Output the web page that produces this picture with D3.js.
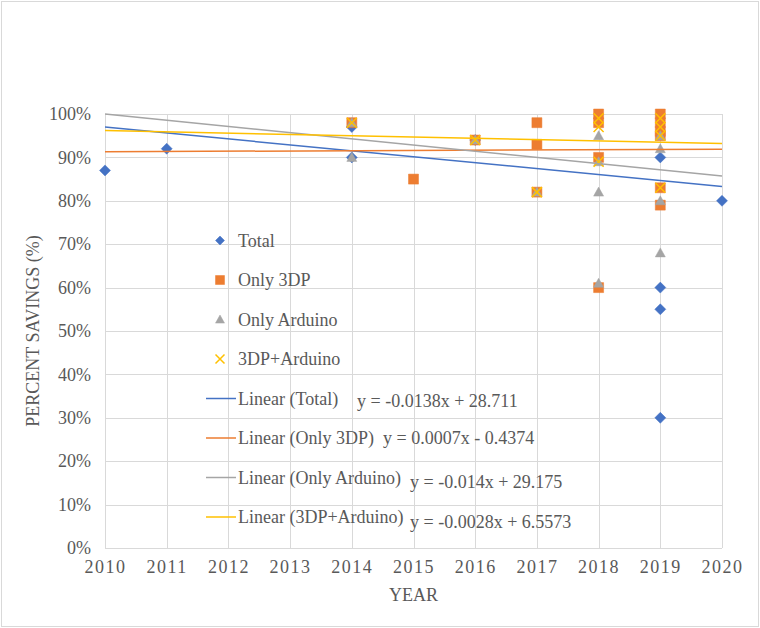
<!DOCTYPE html>
<html>
<head>
<meta charset="utf-8">
<script src="https://cdn.jsdelivr.net/npm/d3@7"></script>
<style>
  html, body { margin: 0; padding: 0; background: #fff; }
  svg text { font-family: "Liberation Serif", "DejaVu Serif", serif !important; fill: #595959; }
</style>
</head>
<body>
<svg id="chart" width="760" height="628"></svg>
<script>
// ---- data (year, percent savings) ----
const totalPts = [[2010,0.87],[2011,0.92],[2014,0.90],[2014,0.97],[2016,0.94],[2019,0.90],[2019,0.60],[2019,0.55],[2019,0.30],[2020,0.80]];
const only3dpPts = [[2014,0.98],[2015,0.85],[2016,0.94],[2017,0.98],[2017,0.93],[2017,0.82],[2018,1.00],[2018,0.98],[2018,0.90],[2018,0.60],[2019,1.00],[2019,0.98],[2019,0.96],[2019,0.95],[2019,0.83],[2019,0.79]];
const onlyArduinoPts = [[2014,0.98],[2014,0.90],[2016,0.94],[2017,0.82],[2018,0.95],[2018,0.89],[2018,0.82],[2018,0.61],[2019,0.95],[2019,0.92],[2019,0.80],[2019,0.68]];
const comboPts = [[2014,0.98],[2016,0.94],[2017,0.82],[2018,0.99],[2018,0.97],[2018,0.89],[2019,0.99],[2019,0.97],[2019,0.95],[2019,0.83]];

const seriesNames = ["Total","Only 3DP","Only Arduino","3DP+Arduino"];
const seriesColors = ["#4472C4","#ED7D31","#A5A5A5","#FFC000"];
const seriesShapes = ["diamond","square","triangle","x"];
// trendline values at the ends of the year range (2010, 2020)
const trendStart = [0.970, 0.913, 1.000, 0.962];
const trendEnd   = [0.833, 0.919, 0.857, 0.932];
const trendEquations = ["y = -0.0138x + 28.711","y = 0.0007x - 0.4374","y = -0.014x + 29.175","y = -0.0028x + 6.5573"];
const xTicks = [2010,2011,2012,2013,2014,2015,2016,2017,2018,2019,2020];
const yTicks = [0,0.1,0.2,0.3,0.4,0.5,0.6,0.7,0.8,0.9,1.0];
const xTitle = "YEAR";
const yTitle = "PERCENT SAVINGS (%)";

const allSeries = [totalPts, only3dpPts, onlyArduinoPts, comboPts];
const FONT = "'Liberation Serif', 'DejaVu Serif', serif";

const svg = d3.select("#chart");
const W = 760, H = 628;
const plot = {left: 105, right: 722, top: 114, bottom: 548};

// chart border
svg.append("rect").attr("x",1.5).attr("y",1.5).attr("width",W-3).attr("height",H-3)
  .attr("fill","#fff").attr("stroke","#d9d9d9").attr("stroke-width",1);

const x = d3.scaleLinear().domain([2010,2020]).range([plot.left, plot.right]);
const y = d3.scaleLinear().domain([0,1]).range([plot.bottom, plot.top]);

// grid
const grid = svg.append("g");
grid.selectAll("line.h").data(yTicks).join("line")
  .attr("x1",plot.left).attr("x2",plot.right)
  .attr("y1",d=>Math.round(y(d))+0.5).attr("y2",d=>Math.round(y(d))+0.5)
  .attr("stroke","#d9d9d9").attr("stroke-width",1);
grid.selectAll("line.v").data(xTicks).join("line")
  .attr("y1",plot.top).attr("y2",plot.bottom)
  .attr("x1",d=>Math.round(x(d))+0.5).attr("x2",d=>Math.round(x(d))+0.5)
  .attr("stroke","#d9d9d9").attr("stroke-width",1);

// axes (labels only)
const yAxis = d3.axisLeft(y).tickValues(yTicks).tickFormat(d3.format(".0%")).tickSize(0).tickPadding(14);
const gy = svg.append("g").attr("transform",`translate(${plot.left},0)`).call(yAxis)
  .attr("font-family", FONT);
gy.select(".domain").remove();
gy.selectAll("text").style("font-size","18px").attr("fill","#595959");

const xAxis = d3.axisBottom(x).tickValues(xTicks).tickFormat(d3.format("d")).tickSize(0).tickPadding(12);
const gx = svg.append("g").attr("transform",`translate(0,${plot.bottom})`).call(xAxis)
  .attr("font-family", FONT);
gx.select(".domain").remove();
gx.selectAll("text").style("font-size","18px").style("letter-spacing","1.5px").attr("fill","#595959");

// titles
svg.append("text").attr("x", (plot.left+plot.right)/2).attr("y", 601)
  .attr("text-anchor","middle").attr("font-family",FONT).style("font-size","18px").text(xTitle);
svg.append("text").attr("transform",`translate(39,${(plot.top+plot.bottom)/2}) rotate(-90)`)
  .attr("text-anchor","middle").attr("font-family",FONT).style("font-size","18px").text(yTitle);

// marker paths
function markerPath(shape, s) {
  const h = s/2;
  if (shape === "diamond") return `M0,${-h}L${h},0L0,${h}L${-h},0Z`;
  if (shape === "square") return `M${-h},${-h}H${h}V${h}H${-h}Z`;
  if (shape === "triangle") return `M0,${-h}L${h},${h*0.8}L${-h},${h*0.8}Z`;
  return `M${-h},${-h}L${h},${h}M${h},${-h}L${-h},${h}`;
}
function drawMarker(g, shape, color, cx, cy, size) {
  const p = g.append("path").attr("d", markerPath(shape, size))
    .attr("transform",`translate(${cx},${cy})`);
  if (shape === "x") p.attr("fill","none").attr("stroke",color).attr("stroke-width",1.5);
  else p.attr("fill",color).attr("stroke",color).attr("stroke-width",0.5);
}

// points
const pts = svg.append("g");
allSeries.forEach((data, i) => {
  data.forEach(d => {
    const sz = seriesShapes[i]==="diamond" ? 11 : 10;
    drawMarker(pts, seriesShapes[i], seriesColors[i], x(d[0]), y(d[1]), sz);
  });
});

// trendlines
const tl = svg.append("g");
seriesNames.forEach((n, i) => {
  tl.append("line").attr("x1",x(2010)).attr("x2",x(2020))
    .attr("y1",y(trendStart[i])).attr("y2",y(trendEnd[i]))
    .attr("stroke",seriesColors[i]).attr("stroke-width",1.5);
});

// legend
const lg = svg.append("g").attr("font-family",FONT);
const legY0 = 240.5, legDy = 39.5;
const legendItems = [];
seriesNames.forEach((n,i)=>legendItems.push({type:"marker", i, label:n}));
seriesNames.forEach((n,i)=>legendItems.push({type:"line", i, label:`Linear (${n})`}));
legendItems.forEach((it, k) => {
  const cy = legY0 + k*legDy;
  if (it.type === "marker") {
    drawMarker(lg, seriesShapes[it.i], seriesColors[it.i], 220, cy, 9);
  } else {
    lg.append("line").attr("x1",206).attr("x2",236).attr("y1",cy).attr("y2",cy)
      .attr("stroke",seriesColors[it.i]).attr("stroke-width",1.5);
  }
  lg.append("text").attr("x",238).attr("y",cy+6).attr("font-family",FONT).style("font-size","18px").text(it.label);
});

// equations
const eqPos = [[357,407],[383,444],[410,488],[410,528]];
trendEquations.forEach((e,i)=>{
  svg.append("text").attr("x",eqPos[i][0]).attr("y",eqPos[i][1]).attr("font-family",FONT)
    .style("font-size","18px").text(e);
});
</script>
</body>
</html>
